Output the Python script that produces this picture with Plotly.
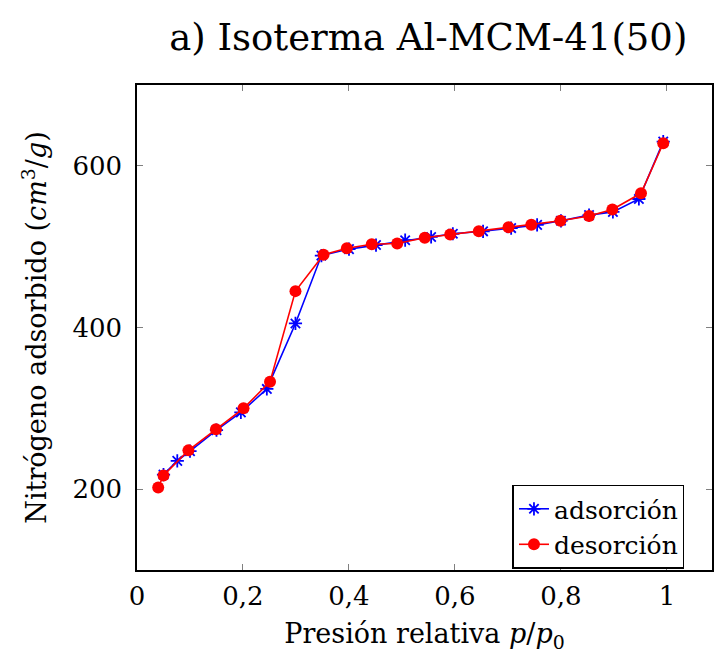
import plotly.graph_objects as go

ads_p = [0.05, 0.076, 0.10, 0.15, 0.196, 0.245, 0.299, 0.348, 0.40, 0.451, 0.506, 0.555, 0.596, 0.653, 0.706, 0.755, 0.80, 0.853, 0.898, 0.947, 0.993]
ads_v = [218, 235, 247, 273, 295, 324, 405, 489, 497, 502, 508, 512, 516, 519, 523, 527, 532, 539, 543, 559, 630]
des_p = [0.040, 0.050, 0.097, 0.149, 0.201, 0.251, 0.299, 0.352, 0.396, 0.443, 0.491, 0.543, 0.591, 0.645, 0.701, 0.744, 0.799, 0.853, 0.897, 0.951, 0.993]
des_v = [202, 217, 248, 274, 300, 333, 445, 490, 498, 503, 504, 511, 515, 519, 524, 527, 532, 538, 546, 566, 628]

x_ticks = [0, 0.2, 0.4, 0.6, 0.8, 1.0]
x_labels = ["0", "0,2", "0,4", "0,6", "0,8", "1"]
y_ticks = [200, 400, 600]

FONT = "DejaVu Serif"

fig = go.Figure()
fig.add_trace(go.Scatter(x=ads_p, y=ads_v, mode="lines+markers", name="adsorción",
                         line=dict(color="#0000ff", width=1.6),
                         marker=dict(symbol="asterisk-open", size=11, color="#0000ff",
                                     line=dict(color="#0000ff", width=1.8))))
fig.add_trace(go.Scatter(x=des_p, y=des_v, mode="lines+markers", name="desorción",
                         line=dict(color="#ff0000", width=1.6),
                         marker=dict(symbol="circle", size=12, color="#ff0000")))

fig.update_layout(
    width=715, height=667,
    margin=dict(l=137, r=1, t=85, b=97),
    paper_bgcolor="white", plot_bgcolor="white",
    separators=",.",
    font=dict(family=FONT, size=26, color="black"),
    title=dict(text="a) Isoterma Al-MCM-41(50)", x=0.599, xanchor="center",
               y=1 - 37 / 667, yanchor="middle",
               font=dict(family=FONT, size=37, color="black")),
    xaxis=dict(range=[0, 1.085], tickvals=x_ticks, ticktext=x_labels,
               ticks="inside", ticklen=6, tickcolor="gray", tickwidth=1,
               showgrid=False, zeroline=False, showline=True, linecolor="black",
               linewidth=1.5, mirror="ticks", ticklabelstandoff=2,
               tickfont=dict(family=FONT, size=26, color="black"),
               title=dict(text="Presión relativa <i>p</i>/<i>p</i><sub>0</sub>", standoff=14,
                          font=dict(family=FONT, size=27, color="black"))),
    yaxis=dict(range=[100, 700], tickvals=y_ticks,
               ticks="inside", ticklen=6, tickcolor="gray", tickwidth=1,
               showgrid=False, zeroline=False, showline=True, linecolor="black",
               linewidth=1.5, mirror="ticks", ticklabelstandoff=8,
               tickfont=dict(family=FONT, size=26, color="black"),
               title=dict(text="Nitrógeno adsorbido (<i>cm</i><sup>3</sup>/<i>g</i>)", standoff=18,
                          font=dict(family=FONT, size=27, color="black"))),
    legend=dict(x=0.653, xanchor="left", y=0.003, yanchor="bottom",
                bordercolor="black", borderwidth=1.5, bgcolor="white",
                font=dict(family=FONT, size=25, color="black"), tracegroupgap=0),
    showlegend=True,
)

fig.write_html("out.html")
